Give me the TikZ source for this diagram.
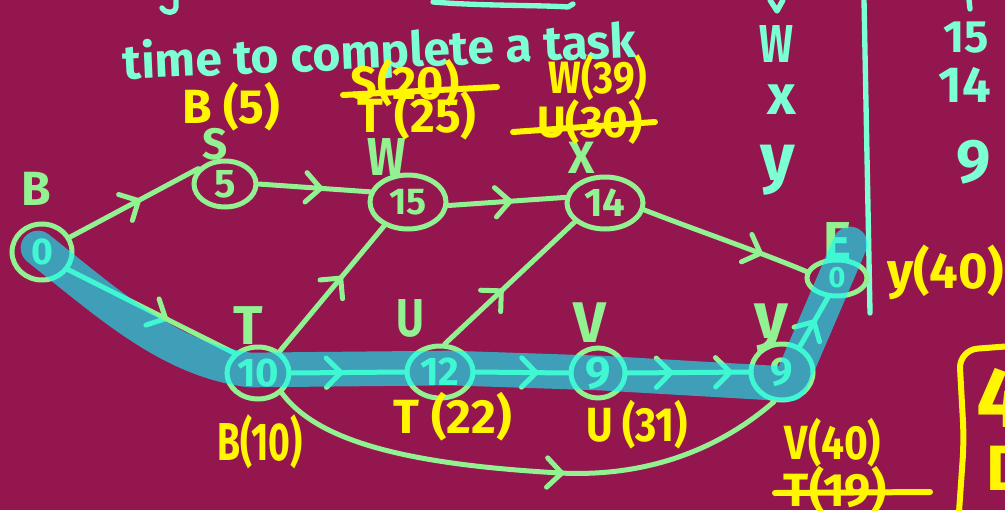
\documentclass[tikz,border=0pt]{standalone}
\usepackage{fontspec}
\setmainfont{Fira Sans}
\usetikzlibrary{shapes.geometric,arrows.meta,decorations.markings}

\definecolor{board}{RGB}{147,23,78}
\definecolor{chalkgreen}{RGB}{146,242,146}
\definecolor{aqua}{RGB}{125,255,212}
\definecolor{marker}{RGB}{255,246,0}
\definecolor{hilite}{RGB}{9,251,255}
\newcommand{\hw}[1]{\fontsize{#1}{#1}\selectfont\bfseries}

\tikzset{
  task/.style={ellipse, draw=chalkgreen, line width=3.75pt, inner sep=0pt,
               text=chalkgreen, font=\hw{30}},
  glabel/.style={text=chalkgreen, inner sep=0pt},
  yel/.style={text=marker, inner sep=0pt},
  clabel/.style={text=aqua, inner sep=0pt},
  conn/.style={draw=chalkgreen, line width=3.75pt, line cap=round, line join=round},
  chevat/.style={postaction={decorate}, decoration={markings,
      mark=at position #1 with {\arrow{Straight Barb[length=11pt,width=22pt,round]}}}},
  chevtwo/.style 2 args={postaction={decorate}, decoration={markings,
      mark=at position #1 with {\arrow{Straight Barb[length=11pt,width=22pt,round]}},
      mark=at position #2 with {\arrow{Straight Barb[length=11pt,width=22pt,round]}}}},
  ypen/.style={draw=marker, line width=4.5pt, line cap=round, line join=round},
  cpen/.style={draw=aqua, line width=4pt, line cap=round, line join=round},
  hlpen/.style={draw=hilite, draw opacity=0.6, line width=26pt, line cap=round, line join=round},
}

\begin{document}
\begin{tikzpicture}[x=0.75pt,y=-0.75pt]
\useasboundingbox (0,0) rectangle (1005,510);
\fill[board] (0,0) rectangle (1005,510);

% ends of the writing above the top edge
\draw[cpen] (176,0) -- (176,7) .. controls (175,14) and (166,14) .. (162,8);
\draw[cpen] (433,2) .. controls (480,6) and (540,5) .. (568,7) -- (573,4);
\draw[cpen] (770,0) -- (777,11) -- (783,0);
\draw[cpen] (969,0) -- (970,9);

% heading
\node[clabel, font=\hw{36}, rotate=2.5] (title) at (380,54) {time to complete a task};

% duration table
\node[clabel, font=\hw{40}, xscale=0.75] (colW) at (776,44) {W};
\node[clabel, font=\hw{42}] (colx) at (782,100) {x};
\node[clabel, font=\hw{50}] (coly) at (778,170) {y};
\node[clabel, font=\hw{34}] (c15) at (966,38) {15};
\node[clabel, font=\hw{38}] (c14) at (965,85) {14};
\node[clabel, font=\hw{46}] (c9) at (974,162) {9};
\draw[cpen] (864,0) -- (870,313);

% tasks
\node[task, minimum width=45pt, minimum height=42pt, font=\hw{28}] (B) at (42,252) {0};
\node[task, minimum width=46.5pt, minimum height=34.5pt] (S) at (225,184) {5};
\node[task, minimum width=57pt, minimum height=40.5pt, font=\hw{28}] (W) at (408,202) {15};
\node[task, minimum width=57pt, minimum height=39pt] (X) at (605,203) {14};
\node[task, minimum width=45pt, minimum height=27pt, font=\hw{22}] (E) at (837,278) {0};
\node[task, minimum width=46.5pt, minimum height=39pt] (T) at (258,373) {10};
\node[task, minimum width=49.5pt, minimum height=39pt] (U) at (440,372) {12};
\node[task, minimum width=40.5pt, minimum height=37.5pt, font=\hw{34}] (V) at (598,373) {9};
\node[task, minimum width=46.5pt, minimum height=42pt] (Y) at (782,372) {9};

% task names
\node[glabel, font=\hw{36}] (nB) at (36,189) {B};
\node[glabel, font=\hw{33}] (nS) at (215,144) {S};
\node[glabel, font=\hw{40}, xscale=0.85] (nW) at (387,157) {W};
\node[glabel, font=\hw{34}] (nX) at (582,158) {X};
\node[glabel, font=\hw{40}] (nE) at (838,241) {E};
\node[glabel, font=\hw{41}] (nT) at (248,326) {T};
\node[glabel, font=\hw{40}, xscale=0.8] (nU) at (410,318) {U};
\node[glabel, font=\hw{43}] (nV) at (590,323) {V};
\node[glabel, font=\hw{49}] (nY) at (771,328) {y};

% dependencies
\draw[conn, chevat=0.55] (B.28) -- (S.150);
\draw[conn, chevat=0.6] (B.-34) -- (T.140);
\draw[conn, chevat=0.58] (S.east) -- (W.165);
\draw[conn, chevat=0.55] (W.-5) -- (X.172);
\draw[conn, chevat=0.73] (X.-10) .. controls (690,228) and (760,252) .. (E.168);
\draw[conn, chevat=0.6] (T.45) -- (W.225);
\draw[conn, chevat=0.45] (U.80) -- (X.212);
\draw[conn, chevat=0.46] (T.east) -- (U.west);
\draw[conn, chevat=0.68] (U.east) -- (V.west);
\draw[conn, chevtwo={0.38}{0.87}] (V.east) -- (Y.west);
\draw[conn, chevat=0.55] (Y.55) -- (E.-115);
\draw[conn, chevat=0.57] (T.-40) .. controls (320,445) and (420,465) .. (560,473)
      .. controls (660,478) and (730,440) .. (Y.-105);

% critical path
\draw[hlpen] (38,248) .. controls (110,305) and (170,360) .. (250,370)
      -- (450,368) -- (600,373) -- (790,384) -- (850,244);

% earliest start times
\node[yel, font=\hw{36}] (lB5) at (231,107) {B (5)};
\node[yel, font=\hw{35}] (lS20) at (405,83) {S(20)};
\draw[ypen] (343,95) -- (497,87);
\node[yel, font=\hw{36}] (lT25) at (417,116) {T (25)};
\node[yel, font=\hw{34}, xscale=0.85] (lW39) at (598,78) {W(39)};
\node[yel, font=\hw{33}] (lU30) at (590,122) {U(30)};
\draw[ypen] (513,132) -- (655,122);
\node[yel, font=\hw{38}, anchor=west] (ly40) at (887,272) {y(40)};
\node[yel, font=\hw{40}, xscale=0.7] (lB10) at (260,442) {B(10)};
\node[yel, font=\hw{36}] (lT22) at (453,417) {T (22)};
\node[yel, font=\hw{36}, xscale=0.85] (lU31) at (637,425) {U (31)};
\node[yel, font=\hw{36}, xscale=0.85] (lV40) at (833,443) {V(40)};
\node[yel, font=\hw{35}] (lT19) at (835,490) {T(19)};
\draw[ypen] (775,493) -- (930,492);

% boxed answer at the edge
\draw[ypen, rounded corners=14pt] (959,512) -- (964,440) -- (959,350) -- (1012,346);
\node[yel, font=\hw{64}, anchor=west] (box4) at (976,398) {4};
\node[yel, font=\hw{48}, anchor=west] (boxD) at (986,468) {D};
\end{tikzpicture}
\end{document}
